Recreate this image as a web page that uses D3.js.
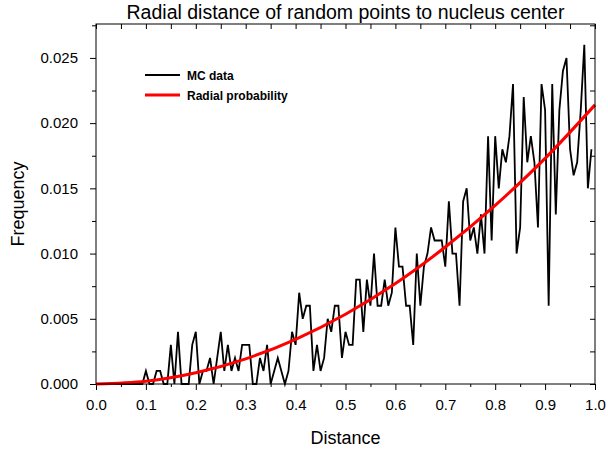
<!DOCTYPE html>
<html lang="en">
<head>
    <meta charset="UTF-8">
    <script src="https://d3js.org/d3.v7.min.js"></script>
    <title>Radial distance of random points</title>
    <style>
        body { margin: 0; background: #fff; }
        svg text { font-family: "Liberation Sans", Arial, sans-serif; fill: #000; }
    </style>
</head>
<body>
<svg class="chart"></svg>

<script>
    // MC histogram: 140 equal bins on [0, 1), value = frequency per bin
    const binCount = 140;
    const mcFreq = [
        0, 0, 0, 0, 0, 0, 0, 0, 0, 0,
        0, 0, 0, 0, 0.001, 0, 0, 0.001, 0.001, 0,
        0, 0.003, 0, 0.004, 0, 0, 0, 0.003, 0.004, 0,
        0.001, 0.001, 0.002, 0, 0.002, 0.004, 0.001, 0.003, 0.001, 0.002,
        0.001, 0.003, 0.003, 0.003, 0, 0, 0.002, 0.001, 0.003, 0,
        0.001, 0.002, 0.001, 0, 0.001, 0.004, 0.003, 0.007, 0.005, 0.006,
        0.006, 0.001, 0.003, 0.001, 0.002, 0.005, 0.004, 0.006, 0.006, 0.002,
        0.004, 0.003, 0.003, 0.008, 0.008, 0.004, 0.008, 0.006, 0.010, 0.006,
        0.006, 0.008, 0.006, 0.007, 0.012, 0.009, 0.009, 0.006, 0.006, 0.003,
        0.010, 0.006, 0.009, 0.010, 0.012, 0.011, 0.011, 0.011, 0.009, 0.014,
        0.010, 0.010, 0.006, 0.014, 0.015, 0.011, 0.012, 0.010, 0.013, 0.010,
        0.019, 0.011, 0.019, 0.015, 0.018, 0.017, 0.019, 0.023, 0.010, 0.012,
        0.022, 0.017, 0.019, 0.017, 0.012, 0.023, 0.021, 0.006, 0.023, 0.013,
        0.021, 0.024, 0.025, 0.018, 0.016, 0.017, 0.021, 0.026, 0.015, 0.018
    ];

    // radial probability curve, read at steps of 0.1
    const curveDist = [0, 0.1, 0.2, 0.3, 0.4, 0.5, 0.6, 0.7, 0.8, 0.9, 1.0];
    const curveProb = [0, 0.00021, 0.00086, 0.00193, 0.00343, 0.00535, 0.0077, 0.0105, 0.0137, 0.0173, 0.0214];

    const xTicks = [0, 0.1, 0.2, 0.3, 0.4, 0.5, 0.6, 0.7, 0.8, 0.9, 1.0];
    const xMinorTicks = [0.05, 0.15, 0.25, 0.35, 0.45, 0.55, 0.65, 0.75, 0.85, 0.95];
    const yTicks = [0, 0.005, 0.010, 0.015, 0.020, 0.025];
    const yMinorTicks = [0.0025, 0.0075, 0.0125, 0.0175, 0.0225, 0.0275];

    const legendLabels = ['MC data', 'Radial probability'];
    const legendColors = ['#000000', '#ff0000'];

    let width = 608;
    let height = 454;
    let margin = {top: 24, right: 13, bottom: 70, left: 96};
    let plot_w = width - margin.left - margin.right;
    let plot_h = height - margin.top - margin.bottom;

    let svg = d3.select('.chart').attr('width', width).attr('height', height);

    var x_range = d3.scaleLinear().domain([0, 1]).range([0, plot_w]);
    var y_range = d3.scaleLinear().domain([0, 0.0276]).range([plot_h, 0]);

    let g = svg.append('g').attr('transform', `translate(${margin.left},${margin.top})`);

    // axes: outside ticks left/bottom, inside ticks top/right
    function styleAxis(sel) {
        sel.select('.domain').remove();
        sel.selectAll('line').attr('stroke', '#000').attr('stroke-width', 1);
        sel.selectAll('text').style('font-size', '15px');
    }

    g.append('g')
        .attr('transform', `translate(0,${plot_h})`)
        .call(d3.axisBottom(x_range).tickValues(xTicks).tickSize(6).tickPadding(9).tickFormat(d3.format('.1f')))
        .call(styleAxis);
    g.append('g')
        .attr('transform', `translate(0,${plot_h})`)
        .call(d3.axisBottom(x_range).tickValues(xMinorTicks).tickSize(3).tickFormat(''))
        .call(styleAxis);
    g.append('g')
        .call(d3.axisTop(x_range).tickValues(xTicks.concat(xMinorTicks)).tickSize(-5).tickFormat(''))
        .call(styleAxis);

    g.append('g')
        .call(d3.axisLeft(y_range).tickValues(yTicks).tickSize(6).tickPadding(12).tickFormat(d3.format('.3f')))
        .call(styleAxis);
    g.append('g')
        .call(d3.axisLeft(y_range).tickValues(yMinorTicks).tickSize(4).tickFormat(''))
        .call(styleAxis);
    g.append('g')
        .attr('transform', `translate(${plot_w},0)`)
        .call(d3.axisRight(y_range).tickValues(yTicks.concat(yMinorTicks)).tickSize(-5).tickFormat(''))
        .call(styleAxis);

    // data lines
    let mcLine = d3.line()
        .x(function (d, i) { return x_range(i / binCount); })
        .y(function (d) { return y_range(d); });

    g.append('path')
        .datum(mcFreq)
        .attr('d', mcLine)
        .attr('fill', 'none')
        .attr('stroke', legendColors[0])
        .attr('stroke-width', 1.8)
        .attr('stroke-linejoin', 'miter');

    let probLine = d3.line()
        .curve(d3.curveMonotoneX)
        .x(function (d, i) { return x_range(curveDist[i]); })
        .y(function (d) { return y_range(d); });

    g.append('path')
        .datum(curveProb)
        .attr('d', probLine)
        .attr('fill', 'none')
        .attr('stroke', legendColors[1])
        .attr('stroke-width', 3);

    // frame
    g.append('rect')
        .attr('width', plot_w).attr('height', plot_h)
        .attr('fill', 'none').attr('stroke', '#000').attr('stroke-width', 1);

    // legend
    let legend = g.selectAll('.legend')
        .data(legendLabels)
        .enter()
        .append('g')
        .attr('transform', function (d, i) { return `translate(49,${51 + i * 20})`; });
    legend.append('line')
        .attr('x1', 0).attr('x2', 35)
        .attr('stroke', function (d, i) { return legendColors[i]; })
        .attr('stroke-width', function (d, i) { return i === 0 ? 1.8 : 3; });
    legend.append('text')
        .attr('x', 42).attr('y', 4.5)
        .style('font-size', '12px').style('font-weight', 'bold')
        .text(function (d) { return d; });

    // titles
    svg.append('text')
        .attr('x', margin.left + plot_w / 2).attr('y', 19)
        .attr('text-anchor', 'middle').style('font-size', '19.5px')
        .text('Radial distance of random points to nucleus center');
    svg.append('text')
        .attr('x', margin.left + plot_w / 2).attr('y', 444)
        .attr('text-anchor', 'middle').style('font-size', '18px')
        .text('Distance');
    svg.append('text')
        .attr('transform', `translate(24,${margin.top + plot_h / 2}) rotate(-90)`)
        .attr('text-anchor', 'middle').style('font-size', '18px')
        .text('Frequency');
</script>
</body>
</html>
